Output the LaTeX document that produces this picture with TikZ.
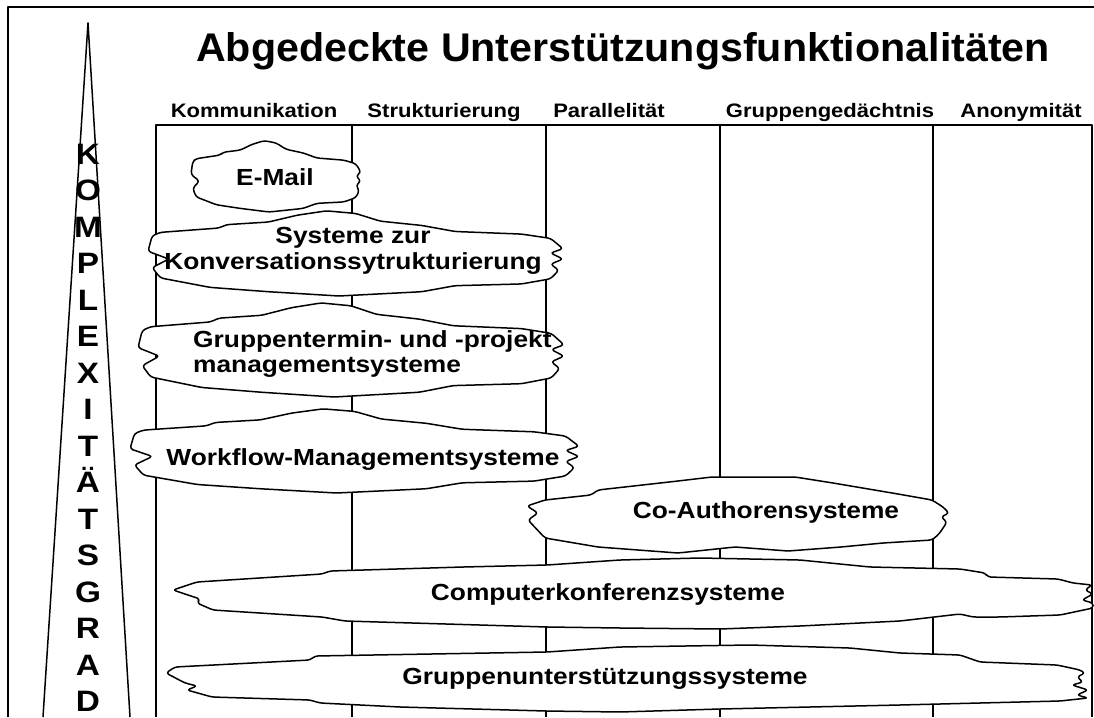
\documentclass[tikz,border=0pt]{standalone}
\usepackage{fontspec}
\setmainfont{Liberation Sans}[FakeStretch=1.13]
\newfontfamily\titlefont{Liberation Sans}[FakeStretch=1.03]
\newcommand\cloudA[4]{%
  \begin{scope}[shift={(#1,#2)}, xscale=#3, yscale=#4]
  \draw[cloudline] (0.01,0.30) -- (0.03,0.26) -- (0.17,0.21) -- (0.19,0.17) -- (0.29,0.14) -- (0.36,0.06) -- (0.43,0.01) -- (0.50,0.04) -- (0.56,0.13) -- (0.66,0.18) -- (0.74,0.25) -- (0.90,0.28) -- (0.97,0.33) -- (1.0,0.45) -- (0.97,0.50) -- (1.0,0.57) -- (0.97,0.63) -- (0.99,0.70) -- (0.97,0.80) -- (0.90,0.86) -- (0.74,0.88) -- (0.66,0.95) -- (0.46,1.0) -- (0.29,0.95) -- (0.15,0.90) -- (0.03,0.79) -- (0.01,0.67) -- (0.05,0.57) -- (0.0,0.48) -- cycle;
  \end{scope}}
\begin{document}
\begin{tikzpicture}[x=1pt,y=-1pt, line join=round,
  tbl/.style={line width=1.5pt},
  cloudline/.style={draw, fill=white, line width=1.5pt, rounded corners=3pt},
  hdr/.style={font=\fontsize{19.5}{22}\selectfont\bfseries, anchor=base, inner sep=0pt},
  ctext/.style={font=\fontsize{23.3}{25.5}\selectfont\bfseries, inner sep=0pt},
  vlet/.style={font=\fontsize{29.5}{30}\selectfont\bfseries, inner sep=0pt, anchor=base},
]
\useasboundingbox (0,0) rectangle (1094,717);
\fill[white] (0,0) rectangle (1094,717);
% frame
\draw[line width=2pt] (8,717) -- (8,7) -- (1094,7);
% table
\draw[tbl] (156,717) -- (156,125) -- (1092,125) -- (1092,717);
\foreach \x in {352,546,720,933} \draw[tbl] (\x,125) -- (\x,717);
% spire
\draw[tbl] (43,717) -- (88,23) -- (130,717);
\foreach \l [count=\i from 0] in {K,O,M,P,L,E,X,I,T,Ä,T,S,G,R,A,D}
  \node[vlet] (v\i) at (88,164+36.5*\i) {\l};
% title and headers
\node[font=\titlefont\fontsize{40}{44}\selectfont\bfseries, anchor=base, inner sep=0pt] (title) at (623,61) {Abgedeckte Unterstützungsfunktionalitäten};
\node[hdr] (h1) at (254,117) {Kommunikation};
\node[hdr] (h2) at (444,117) {Strukturierung};
\node[hdr] (h3) at (609,117) {Parallelität};
\node[hdr] (h4) at (830,117) {Gruppengedächtnis};
\node[hdr] (h5) at (1021,117) {Anonymität};
% clouds
\cloudA{191}{140}{170}{72}
\cloudA{148}{210}{415}{86}
\cloudA{138}{302}{426}{95}
\cloudA{130}{408}{449}{85}
\draw[cloudline] (527,506) -- (545,500) -- (591,495) -- (598,490) -- (678,481) -- (712,477) -- (795,477) -- (833,483) -- (898,494) -- (932,500) -- (943,507) -- (949,513) -- (941,517) -- (947,522) -- (943,528) -- (939,534) -- (932,540) -- (883,543) -- (841,547) -- (788,551) -- (735,547) -- (678,553) -- (598,547) -- (545,538) -- (528,520) -- (538,513) -- cycle;
\draw[cloudline] (173,590) -- (197,582) -- (322,574) -- (330,571) -- (463,567) -- (547,565) -- (620,560) -- (700,558) -- (800,560) -- (870,567) -- (960,569) -- (985,573) -- (988,577) -- (1058,579) -- (1073,583) -- (1092,585) -- (1085,590) -- (1093,594) -- (1082,600) -- (1093,603) -- (1093,608) -- (1060,615) -- (1000,617) -- (973,617) -- (960,614) -- (900,621) -- (800,626) -- (720,629) -- (620,628) -- (547,627) -- (345,621) -- (322,617) -- (213,610) -- (197,603) -- (200,599) -- cycle;
\draw[cloudline] (166,673) -- (175,667) -- (310,660) -- (315,656) -- (547,652) -- (620,647) -- (750,645) -- (850,648) -- (900,653) -- (960,655) -- (980,662) -- (1057,665) -- (1080,670) -- (1085,673) -- (1077,677) -- (1083,682) -- (1072,685) -- (1088,690) -- (1077,695) -- (1088,698) -- (1060,701) -- (900,705) -- (720,709) -- (620,712) -- (546,711) -- (400,707) -- (320,703) -- (310,700) -- (212,697) -- (187,690) -- (197,686) -- (185,683) -- cycle;
% cloud texts
\node[ctext, anchor=base] (email) at (275,185) {E-Mail};
\node[ctext, align=center] (konv) at (353,251) {Systeme zur\\Konversationssytrukturierung};
\node[ctext, align=left, anchor=north west] (gtp) at (193,330) {Gruppentermin- und -projekt\\managementsysteme};
\node[ctext, anchor=base] (wf) at (363,465) {Workflow-Managementsysteme};
\node[ctext, anchor=base] (coa) at (766,518) {Co-Authorensysteme};
\node[ctext, anchor=base] (ck) at (608,600) {Computerkonferenzsysteme};
\node[ctext, anchor=base] (gu) at (605,684) {Gruppenunterstützungssysteme};
\end{tikzpicture}
\end{document}
